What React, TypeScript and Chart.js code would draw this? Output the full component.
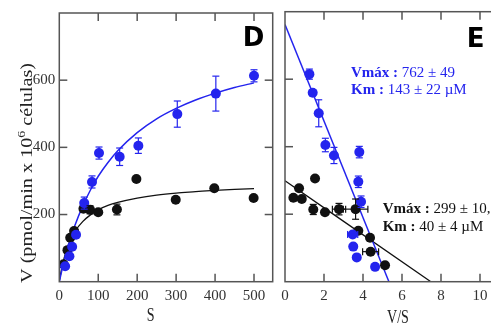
import React, { useEffect, useRef } from "react";
import { Chart, registerables } from "chart.js";
Chart.register(...registerables);

const BLUE = "#2424ee";
const BLACK = "#111111";
const FRAME = "#555555";
const TEXT = "#333333";
const SERIF = '"Liberation Serif", "Times New Roman", serif';

// ---- Panel D : V vs S ----
const sBlue = [15, 26, 33, 43, 64, 84, 102, 155, 203, 303, 402, 500];
const vBlue = [46, 76, 104, 140, 234, 297, 383, 372, 405, 499, 560, 613];
const vBlueErr = [0, 0, 0, 6, 18, 18, 18, 26, 23, 39, 52, 18];
const sBlack = [11, 21, 28, 38, 62, 79, 100, 148, 198, 299, 398, 499];
const vBlack = [52, 94, 131, 151, 217, 214, 207, 215, 306, 244, 278, 249];
const vBlackErr = [0, 0, 0, 0, 0, 12, 0, 16, 0, 0, 0, 0];
const fitS = [0, 5, 10, 20, 30, 40, 60, 80, 100, 125, 150, 200, 250, 300, 350, 400, 450, 500];
const fitBlueV = [0, 26, 50, 94, 132, 167, 225, 273, 314, 355, 390, 444, 485, 516, 541, 561, 578, 592];
const fitBlackV = [0, 33, 60, 100, 128, 150, 179, 199, 214, 227, 236, 249, 258, 264, 268, 272, 275, 277];
const xTicksD = [0, 100, 200, 300, 400, 500];
const yTicks = [200, 400, 600];

// ---- Panel E : V vs V/S ----
const vsBlue = [1.25, 1.42, 1.73, 2.07, 2.51, 3.81, 3.76, 3.9, 3.47, 3.5, 3.68, 4.62];
const vBlueE = [615, 560, 499, 405, 374, 384, 296, 237, 140, 104, 72, 44];
const vBlueEErr = [15, 8, 40, 20, 24, 17, 17, 17, 0, 0, 0, 0];
const vsBlueErr = [0, 0, 0, 0, 0, 0, 0, 0, 0.26, 0, 0, 0];
const vsBlack = [0.43, 0.72, 0.86, 1.54, 1.45, 2.05, 2.77, 3.62, 3.76, 4.36, 4.39, 5.13];
const vBlackE = [249, 277, 245, 306, 214, 206, 215, 215, 151, 130, 89, 49];
const vBlackEErr = [0, 0, 0, 0, 15, 0, 17, 30, 0, 0, 0, 0];
const vsBlackErr = [0, 0, 0, 0, 0, 0, 0.34, 0.63, 0, 0, 0.41, 0];
const ehBlueVS = [0, 5.33];
const ehBlueV = [762, 0];
const ehBlackVS = [0, 7.48];
const ehBlackV = [299, 0];
const xTicksE = [0, 2, 4, 6, 8, 10];

const pts = (xs: number[], ys: number[]) => xs.map((x, i) => ({ x, y: ys[i] }));

function richLine(ctx: CanvasRenderingContext2D, parts: [string, boolean][], x: number, y: number, size: number, color: string) {
  ctx.fillStyle = color;
  ctx.textBaseline = "alphabetic";
  ctx.textAlign = "left";
  for (const [t, bold] of parts) {
    ctx.font = `${bold ? "bold " : ""}${size}px ${SERIF}`;
    ctx.fillText(t, x, y);
    x += ctx.measureText(t).width;
  }
}

function decor(xTicks: number[], drawText: (ctx: CanvasRenderingContext2D) => void) {
  return {
    id: "decor",
    afterDatasetsDraw(chart: any) {
      const { ctx, chartArea: a, scales } = chart;
      const xs = scales.x, ys = scales.y;
      const seg = (x1: number, y1: number, x2: number, y2: number) => {
        ctx.beginPath(); ctx.moveTo(x1, y1); ctx.lineTo(x2, y2); ctx.stroke();
      };
      chart.data.datasets.forEach((ds: any) => {
        if (!ds.ex && !ds.ey) return;
        ctx.save();
        ctx.strokeStyle = ds.backgroundColor;
        ctx.lineWidth = 1.2;
        ds.data.forEach((p: any, i: number) => {
          const px = xs.getPixelForValue(p.x), py = ys.getPixelForValue(p.y);
          const ey = ds.ey ? ds.ey[i] : 0, ex = ds.ex ? ds.ex[i] : 0;
          if (ey) {
            const y1 = ys.getPixelForValue(p.y + ey), y2 = ys.getPixelForValue(p.y - ey);
            seg(px, y1, px, y2); seg(px - 3.5, y1, px + 3.5, y1); seg(px - 3.5, y2, px + 3.5, y2);
          }
          if (ex) {
            const x1 = xs.getPixelForValue(p.x - ex), x2 = xs.getPixelForValue(p.x + ex);
            seg(x1, py, x2, py); seg(x1, py - 3.5, x1, py + 3.5); seg(x2, py - 3.5, x2, py + 3.5);
          }
        });
        ctx.restore();
      });
      ctx.save();
      ctx.strokeStyle = FRAME;
      ctx.lineWidth = 1.5;
      ctx.strokeRect(a.left, a.top, a.right - a.left, a.bottom - a.top);
      const tl = 8;
      xTicks.forEach((v) => {
        const px = xs.getPixelForValue(v);
        if (px <= a.left + 1 || px >= a.right - 1) return;
        seg(px, a.bottom, px, a.bottom - tl);
        seg(px, a.top, px, a.top + tl);
      });
      yTicks.forEach((v) => {
        const py = ys.getPixelForValue(v);
        seg(a.left, py, a.left + tl, py);
        seg(a.right, py, a.right - tl, py);
      });
      ctx.restore();
      ctx.save();
      drawText(ctx);
      ctx.restore();
    },
  };
}

function baseOptions(xMin: number, xMax: number, xTicks: number[], padding: any, showY: boolean) {
  return {
    animation: false,
    responsive: false,
    events: [],
    layout: { padding },
    plugins: { legend: { display: false }, tooltip: { enabled: false } },
    scales: {
      x: {
        type: "linear",
        min: xMin,
        max: xMax,
        grid: { display: false, drawTicks: false },
        border: { display: false },
        afterBuildTicks: (s: any) => { s.ticks = xTicks.map((v) => ({ value: v })); },
        afterFit: (s: any) => { s.height = 43.3; },
        ticks: { font: { family: SERIF, size: 15 }, color: TEXT, padding: 5 },
      },
      y: {
        type: "linear",
        min: 0,
        max: 800,
        display: showY,
        grid: { display: false, drawTicks: false },
        border: { display: false },
        afterBuildTicks: (s: any) => { s.ticks = yTicks.map((v) => ({ value: v })); },
        afterFit: (s: any) => { s.width = showY ? 59.3 : 0; },
        ticks: { font: { family: SERIF, size: 15 }, color: TEXT, padding: 4 },
      },
    },
  };
}

const pointDs = (data: any[], color: string, order: number, ex?: number[], ey?: number[]) => ({
  data, backgroundColor: color, borderColor: color, pointRadius: 5, pointBorderWidth: 0,
  showLine: false, order, ex, ey,
});
const lineDs = (data: any[], color: string, order: number, width: number) => ({
  data, borderColor: color, backgroundColor: color, pointRadius: 0, showLine: true,
  borderWidth: width, tension: 0.4, cubicInterpolationMode: "monotone", order,
});

export default function App() {
  const leftRef = useRef<HTMLCanvasElement>(null);
  const rightRef = useRef<HTMLCanvasElement>(null);

  useEffect(() => {
    const left = new Chart(leftRef.current as HTMLCanvasElement, {
      type: "scatter",
      data: {
        datasets: [
          pointDs(pts(sBlue, vBlue), BLUE, 0, undefined, vBlueErr),
          pointDs(pts(sBlack, vBlack), BLACK, 1, undefined, vBlackErr),
          lineDs(pts(fitS, fitBlueV), BLUE, 2, 1.5),
          lineDs(pts(fitS, fitBlackV), BLACK, 3, 1.3),
        ] as any,
      },
      options: baseOptions(0, 548, xTicksD, { top: 11.7, right: 7.3, bottom: 0, left: 0 }, true) as any,
      plugins: [
        decor(xTicksD, (ctx) => {
          // y title
          ctx.fillStyle = "#222";
          ctx.translate(26, 173);
          ctx.rotate(-Math.PI / 2);
          const big = `16px ${SERIF}`, small = `11px ${SERIF}`;
          const p1 = "V (pmol/min x 10", p2 = "6", p3 = " células)";
          ctx.font = big; const w1 = ctx.measureText(p1).width; const w3 = ctx.measureText(p3).width;
          ctx.font = small; const w2 = ctx.measureText(p2).width;
          const tot = w1 + w2 + w3;
          ctx.scale(220 / tot, 1);
          let x = -tot / 2;
          ctx.textBaseline = "alphabetic";
          ctx.font = big; ctx.fillText(p1, x, 6); x += w1;
          ctx.font = small; ctx.fillText(p2, x, -1); x += w2;
          ctx.font = big; ctx.fillText(p3, x, 6);
          ctx.setTransform(1, 0, 0, 1, 0, 0);
          // x title
          ctx.save();
          ctx.fillStyle = "#222";
          ctx.font = `18px ${SERIF}`;
          ctx.textAlign = "center";
          ctx.textBaseline = "middle";
          ctx.translate(150.7, 316);
          ctx.scale(0.78, 1);
          ctx.fillText("S", 0, 0);
          ctx.restore();
          // panel letter
          ctx.save();
          ctx.fillStyle = "#000";
          ctx.font = `bold 26px "DejaVu Sans", sans-serif`;
          ctx.textAlign = "left";
          ctx.textBaseline = "alphabetic";
          ctx.fillText("D", 242.7, 45.7);
          ctx.restore();
        }),
      ],
    });

    const OFF = 265;
    const right = new Chart(rightRef.current as HTMLCanvasElement, {
      type: "scatter",
      data: {
        datasets: [
          pointDs(pts(vsBlue, vBlueE), BLUE, 0, vsBlueErr, vBlueEErr),
          pointDs(pts(vsBlack, vBlackE), BLACK, 1, vsBlackErr, vBlackEErr),
          lineDs(pts(ehBlueVS, ehBlueV), BLUE, 2, 1.5),
          lineDs(pts(ehBlackVS, ehBlackV), BLACK, 3, 1.3),
        ] as any,
      },
      options: baseOptions(0, 12, xTicksE, { top: 11.7, right: 16, bottom: 0, left: 20 }, false) as any,
      plugins: [
        decor(xTicksE, (ctx) => {
          ctx.save();
          ctx.fillStyle = "#222";
          ctx.font = `18px ${SERIF}`;
          ctx.textAlign = "center";
          ctx.textBaseline = "middle";
          ctx.translate(398 - OFF, 318);
          ctx.scale(0.78, 1);
          ctx.fillText("V/S", 0, 0);
          ctx.restore();
          ctx.save();
          ctx.fillStyle = "#000";
          ctx.font = `bold 26px "DejaVu Sans", sans-serif`;
          ctx.textAlign = "left";
          ctx.fillText("E", 466.7 - OFF, 46.7);
          ctx.restore();
          richLine(ctx, [["Vmáx :", true], [" 762 ± 49", false]], 351 - OFF, 77, 15, BLUE);
          richLine(ctx, [["Km :", true], [" 143 ± 22 µM", false]], 351 - OFF, 94, 15, BLUE);
          richLine(ctx, [["Vmáx :", true], [" 299 ± 10,", false]], 382.7 - OFF, 213, 15, BLACK);
          richLine(ctx, [["Km :", true], [" 40 ± 4 µM", false]], 382.7 - OFF, 231, 15, BLACK);
        }),
      ],
    });

    return () => { left.destroy(); right.destroy(); };
  }, []);

  return (
    <div style={{ position: "fixed", left: 0, top: 0, width: 491, height: 325, overflow: "hidden", background: "#fff" }}>
      <canvas ref={leftRef} width={280} height={325} style={{ position: "absolute", left: 0, top: 0, width: 280, height: 325 }} />
      <canvas ref={rightRef} width={270} height={325} style={{ position: "absolute", left: 265, top: 0, width: 270, height: 325 }} />
    </div>
  );
}
